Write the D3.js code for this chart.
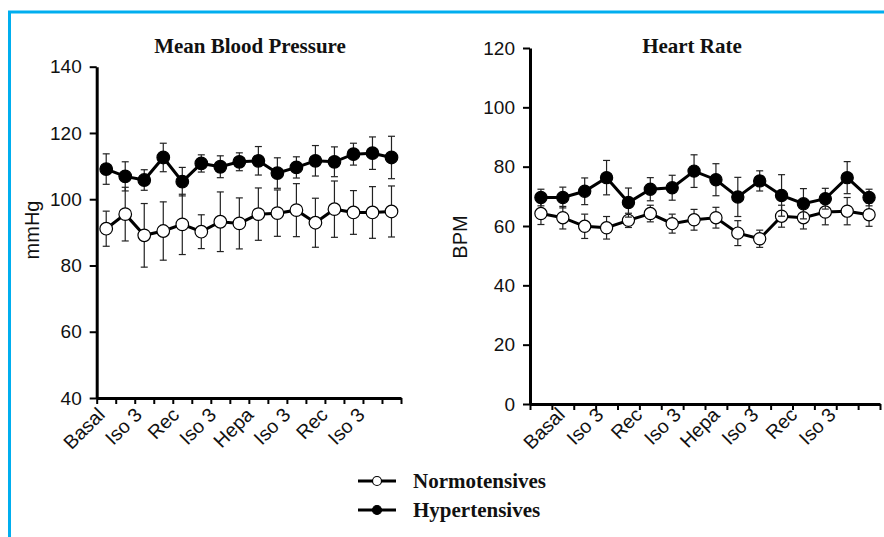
<!DOCTYPE html>
<html><head><meta charset="utf-8">
<script src="https://cdn.jsdelivr.net/npm/d3@7"></script>
<style>html,body{margin:0;padding:0;background:#fff;}svg{display:block;}</style>
</head><body>
<script>
const categories = d3.range(1, 17).map(String);
const xLabels = ["Basal", "Iso 3", "Rec", "Iso 3", "Hepa", "Iso 3", "Rec", "Iso 3"];
const seriesNames = ["Normotensives", "Hypertensives"];

const mbpNormo = [91.1, 95.5, 89.1, 90.4, 92.4, 90.2, 93.2, 92.7, 95.5, 95.8, 96.7, 92.9, 97.0, 96.0, 96.0, 96.3];
const mbpNormoErr = [5.3, 8.1, 9.6, 8.8, 9.1, 5.1, 9.0, 7.7, 7.9, 7.0, 8.0, 7.4, 8.5, 6.6, 7.8, 7.7];
const mbpHyper = [109.1, 106.9, 105.8, 112.6, 105.3, 110.8, 109.8, 111.3, 111.6, 107.9, 109.6, 111.6, 111.3, 113.6, 113.9, 112.6];
const mbpHyperErr = [4.6, 4.4, 3.1, 4.3, 4.3, 2.6, 3.3, 2.7, 4.3, 4.6, 3.2, 4.6, 4.5, 3.3, 4.9, 6.4];

const hrNormo = [64.2, 62.8, 59.9, 59.4, 61.9, 64.2, 60.8, 62.1, 62.8, 57.6, 55.7, 63.3, 62.8, 64.7, 65.0, 63.8];
const hrNormoErr = [3.7, 3.8, 4.1, 3.8, 2.4, 2.8, 3.2, 3.5, 3.5, 4.2, 2.9, 3.7, 3.8, 4.3, 4.6, 3.9];
const hrHyper = [69.6, 69.6, 71.7, 76.3, 67.9, 72.4, 72.9, 78.5, 75.6, 69.8, 75.2, 70.3, 67.5, 69.2, 76.3, 69.6];
const hrHyperErr = [2.8, 3.5, 4.5, 5.8, 4.9, 3.9, 4.2, 5.5, 5.4, 6.6, 3.4, 7.0, 5.1, 3.5, 5.4, 2.8];

const mbpTicks = [40, 60, 80, 100, 120, 140];
const hrTicks = [0, 20, 40, 60, 80, 100, 120];

const W = 884, H = 537;
const svg = d3.select("body").append("svg").attr("width", W).attr("height", H);

// blue frame
svg.append("line").attr("x1", 9.5).attr("x2", 9.5).attr("y1", 11).attr("y2", H).attr("stroke", "#00aeef").attr("stroke-width", 3);
svg.append("line").attr("x1", 8).attr("x2", W).attr("y1", 12).attr("y2", 12).attr("stroke", "#00aeef").attr("stroke-width", 3);

const sans = "Arial, 'Liberation Sans', sans-serif";
const serif = "'Liberation Serif', 'Times New Roman', serif";

function panel(cfg) {
  const g = svg.append("g");
  const x = d3.scaleBand().domain(categories).range([cfg.x0, cfg.x1]).padding(0);
  const xTick = d3.scaleLinear().domain([0, categories.length]).range([cfg.x0, cfg.x1]);
  const y = d3.scaleLinear().domain(cfg.yDomain).range([cfg.yBottom, cfg.yTop]);
  const xl = d3.scalePoint().domain(d3.range(xLabels.length)).range(cfg.labelRange);

  // y axis
  const ya = g.append("g").attr("transform", `translate(${cfg.x0},0)`)
    .call(d3.axisLeft(y).tickValues(cfg.yTicks).tickSize(7).tickPadding(8).tickSizeOuter(0));
  ya.select(".domain").attr("stroke", "#000").attr("stroke-width", 3);
  ya.selectAll(".tick line").attr("stroke", "#000").attr("stroke-width", 2);
  ya.selectAll(".tick text").attr("font-family", sans).attr("font-size", 19).attr("fill", "#111");

  // x axis (ticks at category boundaries)
  const xa = g.append("g").attr("transform", `translate(0,${cfg.yBottom})`)
    .call(d3.axisBottom(xTick).tickValues(d3.range(0, categories.length + 1)).tickSize(6).tickFormat("").tickSizeOuter(0));
  xa.select(".domain").attr("stroke", "#000").attr("stroke-width", 3);
  xa.selectAll(".tick line").attr("stroke", "#000").attr("stroke-width", 2);

  // rotated category labels
  g.selectAll("text.xl").data(xLabels).enter().append("text")
    .attr("class", "xl")
    .attr("transform", (d, i) => `translate(${xl(i)},${cfg.labelY}) rotate(-45)`)
    .attr("text-anchor", "end")
    .attr("font-family", sans)
    .attr("font-size", 19.5).attr("fill", "#111")
    .text(d => d);

  // y label
  g.append("text")
    .attr("transform", `translate(${cfg.yLabelX},${cfg.yLabelY}) rotate(-90)`)
    .attr("text-anchor", "middle")
    .attr("font-family", sans)
    .attr("font-size", 20).attr("fill", "#111")
    .text(cfg.yLabel);

  // title
  g.append("text")
    .attr("x", cfg.titleX).attr("y", 53)
    .attr("text-anchor", "middle")
    .attr("font-family", serif)
    .attr("font-weight", "bold").attr("font-size", 21).attr("fill", "#111")
    .text(cfg.title);

  const cx = (d, i) => x(categories[i]) + x.bandwidth() / 2;
  cfg.series.forEach(s => {
    const sg = g.append("g");
    // error bars
    s.values.forEach((v, i) => {
      const px = cx(v, i), top = y(v + s.err[i]), bot = y(v - s.err[i]);
      sg.append("line").attr("x1", px).attr("x2", px).attr("y1", top).attr("y2", bot).attr("stroke", "#222").attr("stroke-width", 1.2);
      sg.append("line").attr("x1", px - 3.5).attr("x2", px + 3.5).attr("y1", top).attr("y2", top).attr("stroke", "#222").attr("stroke-width", 1.2);
      sg.append("line").attr("x1", px - 3.5).attr("x2", px + 3.5).attr("y1", bot).attr("y2", bot).attr("stroke", "#222").attr("stroke-width", 1.2);
    });
    sg.append("path")
      .attr("d", d3.line().x(cx).y(d => y(d))(s.values))
      .attr("fill", "none").attr("stroke", "#000").attr("stroke-width", 3);
    sg.selectAll("circle").data(s.values).enter().append("circle")
      .attr("cx", cx).attr("cy", d => y(d)).attr("r", cfg.r)
      .attr("fill", s.fill).attr("stroke", "#000").attr("stroke-width", 1.2);
  });
}

panel({
  x0: 96.7, x1: 401, yTop: 66.7, yBottom: 398, yDomain: [40, 140], yTicks: mbpTicks,
  labelRange: [106, 366], labelY: 416, yLabel: "mmHg", yLabelX: 39, yLabelY: 230,
  title: "Mean Blood Pressure", titleX: 250, r: 6.3,
  series: [
    { values: mbpNormo, err: mbpNormoErr, fill: "#fff" },
    { values: mbpHyper, err: mbpHyperErr, fill: "#000" }
  ]
});

panel({
  x0: 530, x1: 880, yTop: 48, yBottom: 404, yDomain: [0, 120], yTicks: hrTicks,
  labelRange: [566, 837], labelY: 416, yLabel: "BPM", yLabelX: 467, yLabelY: 237,
  title: "Heart Rate", titleX: 692, r: 6.1,
  series: [
    { values: hrNormo, err: hrNormoErr, fill: "#fff" },
    { values: hrHyper, err: hrHyperErr, fill: "#000" }
  ]
});

// legend
const leg = svg.append("g");
const legY = d3.scalePoint().domain(seriesNames).range([481, 510]);
const legFill = d3.scaleOrdinal().domain(seriesNames).range(["#fff", "#000"]);
seriesNames.forEach(n => {
  leg.append("line").attr("x1", 358).attr("x2", 396).attr("y1", legY(n)).attr("y2", legY(n)).attr("stroke", "#000").attr("stroke-width", 3);
  leg.append("circle").attr("cx", 377).attr("cy", legY(n)).attr("r", 4.5).attr("fill", legFill(n)).attr("stroke", "#000").attr("stroke-width", 1.2);
  leg.append("text").attr("x", 413).attr("y", legY(n) + 7)
    .attr("font-family", serif)
    .attr("font-weight", "bold").attr("font-size", 21).attr("fill", "#111")
    .text(n);
});
</script>
</body></html>
